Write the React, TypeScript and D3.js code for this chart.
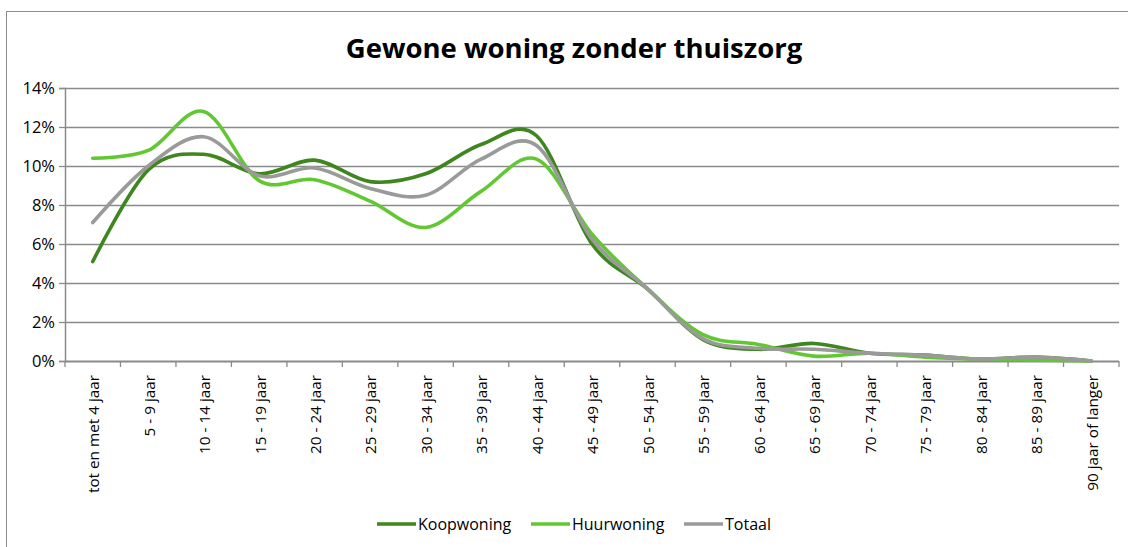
import * as d3 from "d3";
import { useEffect, useRef } from "react";

const width = 1128;
const height = 547;
const margin = { top: 88, right: 9, bottom: 186, left: 65 };

const categories = [
  "tot en met 4 jaar",
  "5 - 9 jaar",
  "10 - 14 jaar",
  "15 - 19 jaar",
  "20 - 24 jaar",
  "25 - 29 jaar",
  "30 - 34 jaar",
  "35 - 39 jaar",
  "40 - 44 jaar",
  "45 - 49 jaar",
  "50 - 54 jaar",
  "55 - 59 jaar",
  "60 - 64 jaar",
  "65 - 69 jaar",
  "70 - 74 jaar",
  "75 - 79 jaar",
  "80 - 84 jaar",
  "85 - 89 jaar",
  "90 jaar of langer",
];

// percentages
const koopwoning = [5.1, 9.8, 10.6, 9.6, 10.3, 9.2, 9.6, 11.1, 11.55, 6.0, 3.7, 1.1, 0.6, 0.9, 0.4, 0.3, 0.1, 0.2, 0.0];
const huurwoning = [10.4, 10.8, 12.8, 9.25, 9.3, 8.2, 6.85, 8.7, 10.35, 6.5, 3.7, 1.35, 0.85, 0.25, 0.4, 0.2, 0.1, 0.05, 0.0];
const totaal = [7.1, 10.0, 11.5, 9.5, 9.9, 8.85, 8.5, 10.35, 11.05, 6.25, 3.7, 1.15, 0.65, 0.6, 0.4, 0.3, 0.1, 0.2, 0.0];

const yTicks = [0, 2, 4, 6, 8, 10, 12, 14];

const series = [
  { name: "Koopwoning", values: koopwoning, color: "#3f861f" },
  { name: "Huurwoning", values: huurwoning, color: "#62c832" },
  { name: "Totaal", values: totaal, color: "#9a9a9a" },
];

const font = "'Open Sans', 'Noto Sans', sans-serif";

export default function App() {
  const svgRef = useRef<SVGSVGElement | null>(null);

  useEffect(() => {
    if (!svgRef.current) return;
    const svg = d3.select(svgRef.current);
    svg.selectAll("*").remove();

    const innerWidth = width - margin.left - margin.right;
    const innerHeight = height - margin.top - margin.bottom;

    const x = d3.scaleBand<string>().domain(categories).range([0, innerWidth]);
    const y = d3.scaleLinear().domain([0, 14]).range([innerHeight, 0]);

    svg.append("rect").attr("width", width).attr("height", height).attr("fill", "#fff");
    // outer chart border (only left/top edges fall inside the picture)
    svg
      .append("rect")
      .attr("x", 6.5)
      .attr("y", 11.5)
      .attr("width", width + 20)
      .attr("height", height + 20)
      .attr("fill", "none")
      .attr("stroke", "#8c8c8c")
      .attr("stroke-width", 1);

    svg
      .append("text")
      .attr("x", 574)
      .attr("y", 58)
      .attr("text-anchor", "middle")
      .attr("font-family", font)
      .attr("font-weight", "bold")
      .attr("font-size", 27.5)
      .attr("fill", "#000")
      .text("Gewone woning zonder thuiszorg");

    const chart = svg.append("g").attr("transform", `translate(${margin.left},${margin.top})`);

    chart
      .append("g")
      .selectAll("line")
      .data(yTicks.slice(1))
      .join("line")
      .attr("x1", 0)
      .attr("x2", innerWidth)
      .attr("y1", (t) => Math.round(y(t)) + 0.5)
      .attr("y2", (t) => Math.round(y(t)) + 0.5)
      .attr("stroke", "#8a8a8a")
      .attr("stroke-width", 1.3);

    // y axis
    const yAxis = chart
      .append("g")
      .call(
        d3
          .axisLeft(y)
          .tickValues(yTicks)
          .tickSize(6)
          .tickPadding(4)
          .tickFormat((d) => `${d}%`)
      );
    yAxis.select(".domain").attr("stroke", "#8a8a8a").attr("stroke-width", 1.5);
    yAxis.selectAll(".tick line").attr("stroke", "#8a8a8a").attr("stroke-width", 1.3);
    yAxis
      .selectAll(".tick text")
      .attr("font-family", font)
      .attr("font-size", 16.5)
      .attr("fill", "#000")
      .attr("dy", "0.35em");

    // x axis with ticks on category boundaries
    const xAxis = chart.append("g").attr("transform", `translate(0,${innerHeight})`);
    xAxis
      .append("line")
      .attr("x1", 0)
      .attr("x2", innerWidth)
      .attr("y1", 0.5)
      .attr("y2", 0.5)
      .attr("stroke", "#8a8a8a")
      .attr("stroke-width", 2);
    xAxis
      .selectAll("line.tick")
      .data(d3.range(categories.length + 1))
      .join("line")
      .attr("class", "tick")
      .attr("x1", (i) => i * x.step())
      .attr("x2", (i) => i * x.step())
      .attr("y1", 0)
      .attr("y2", 6)
      .attr("stroke", "#8a8a8a")
      .attr("stroke-width", 1.3);
    xAxis
      .selectAll("text")
      .data(categories)
      .join("text")
      .attr("transform", (c) => `translate(${(x(c) ?? 0) + x.bandwidth() / 2 + 1},${14}) rotate(-90)`)
      .attr("text-anchor", "end")
      .attr("dy", "0.35em")
      .attr("font-family", font)
      .attr("font-size", 15.3)
      .attr("fill", "#000")
      .text((c) => c);

    const line = d3
      .line<number>()
      .x((_v, i) => (x(categories[i]) ?? 0) + x.bandwidth() / 2)
      .y((v) => y(v))
      .curve(d3.curveCardinal.tension(0));

    chart
      .selectAll("path.series")
      .data(series)
      .join("path")
      .attr("class", "series")
      .attr("d", (s) => line(s.values))
      .attr("fill", "none")
      .attr("stroke", (s) => s.color)
      .attr("stroke-width", 3.6)
      .attr("stroke-linejoin", "round")
      .attr("stroke-linecap", "round");

    // legend
    const legendX = [377, 531, 684];
    const legend = svg
      .append("g")
      .selectAll("g")
      .data(series)
      .join("g")
      .attr("transform", (_s, i) => `translate(${legendX[i]},524)`);
    legend
      .append("line")
      .attr("x1", 0)
      .attr("x2", 39)
      .attr("stroke", (s) => s.color)
      .attr("stroke-width", 3.6);
    legend
      .append("text")
      .attr("x", 41)
      .attr("dy", "0.35em")
      .attr("font-family", font)
      .attr("font-size", 16)
      .attr("fill", "#000")
      .text((s) => s.name);
  }, []);

  return (
    <svg
      ref={svgRef}
      width={width}
      height={height}
      style={{ position: "absolute", left: 0, top: 0 }}
    />
  );
}
